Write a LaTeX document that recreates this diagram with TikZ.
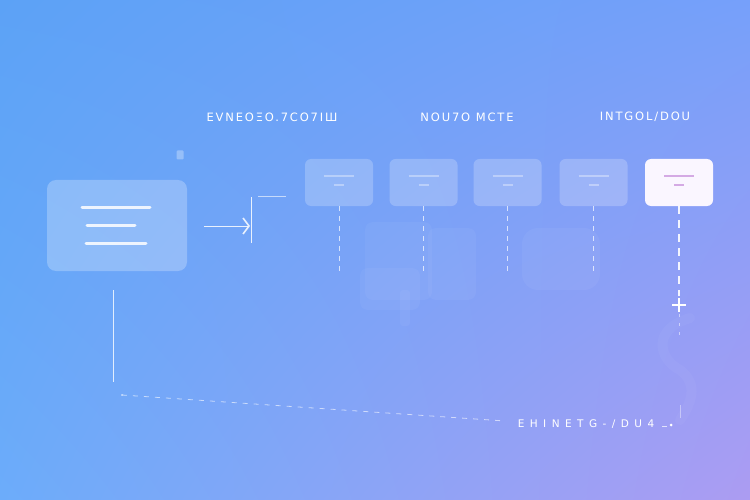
\documentclass[tikz,border=0pt]{standalone}
\usepackage{fontspec}
\newfontfamily\lbl{DejaVu Sans}[LetterSpace=16]
\newfontfamily\lblw{DejaVu Sans}[LetterSpace=52]
\usetikzlibrary{arrows.meta,shadings}
\definecolor{bgTL}{RGB}{92,162,246}
\definecolor{bgTR}{RGB}{118,160,250}
\definecolor{bgBL}{RGB}{108,172,250}
\definecolor{bgBR}{RGB}{172,156,242}
\definecolor{hiline}{RGB}{212,170,228}
\definecolor{hifill}{RGB}{250,246,255}
\tikzset{
  x=1pt,y=-1pt,
  softbox/.style={draw=none,fill=white,fill opacity=0.22,rounded corners=6pt,minimum width=68pt,minimum height=47pt,inner sep=0pt},
  hibox/.style={draw=none,fill=hifill,rounded corners=6pt,minimum width=68pt,minimum height=47pt,inner sep=0pt},
  bigbox/.style={draw=none,fill=white,fill opacity=0.25,rounded corners=9pt,minimum width=140pt,minimum height=91pt,inner sep=0pt},
  txtline/.style={white,line width=3pt,line cap=round,opacity=0.85},
  boxln/.style={white,line width=1.8pt,opacity=0.35},
  thin/.style={white,line width=0.9pt,opacity=0.85},
  vdash/.style={white,line width=1pt,dash pattern=on 5pt off 5pt,opacity=0.7},
  hdash/.style={white,line width=1.6pt,dash pattern=on 8pt off 6pt,opacity=0.9},
  bdash/.style={white,line width=0.8pt,dash pattern=on 5pt off 6pt,opacity=0.6},
  head/.style={text=white,font=\lbl\fontsize{11.5}{13}\selectfont,inner sep=0pt},
  blob/.style={fill=white,opacity=0.045,draw=none}
}
\begin{document}
\begin{tikzpicture}
\useasboundingbox (0,0) rectangle (750,500);
\shade[upper left=bgTL,upper right=bgTR,lower left=bgBL,lower right=bgBR] (0,0) rectangle (750,500);
% faint blobs
\fill[blob,rounded corners=8pt] (365,222) rectangle (432,300);
\fill[blob,rounded corners=8pt] (428,228) rectangle (476,300);
\fill[blob,rounded corners=8pt] (360,268) rectangle (420,310);
\fill[blob,rounded corners=3pt] (400,290) rectangle (410,326);
\fill[blob,rounded corners=16pt] (522,228) rectangle (600,290);
\draw[white,opacity=0.035,line width=10pt,line cap=round] (690,318) .. controls (650,330) and (660,360) .. (680,370) .. controls (700,385) and (690,405) .. (680,420);
% headers
\node[head] (h1) at (272,117) {EVNEOΞO.7CO7IШ};
\node[head] (h2) at (467,117) {NOU7O MCTE};
\node[head] (h3) at (645,117) {INTGOL/DOU};
% small square
\node[fill=white,opacity=0.3,minimum width=7pt,minimum height=9pt,inner sep=0pt,rounded corners=1pt] (sq) at (180,155) {};
% big box
\node[bigbox] (big) at (117,225.5) {};
\draw[txtline] (82,207) -- (150,207);
\draw[txtline] (87,225) -- (135,225);
\draw[txtline] (86,243) -- (146,243);
% arrow
\coordinate (a0) at (204,226);
\coordinate (a1) at (250,226);
\draw[white,line width=1pt,opacity=0.85,-{Straight Barb[length=6pt,width=16pt,line width=1.6pt]}] (a0) -- (a1);
\coordinate (v0) at (251,197);
\coordinate (v1) at (251,243);
\draw[thin] (v0) -- (v1);
\coordinate (t0) at (258,196);
\coordinate (t1) at (286,196);
\draw[thin,opacity=0.6] (t0) -- (t1);
% step boxes
\foreach \n/\x in {b1/339,b2/423.5,b3/507.5,b4/593.5}{
  \node[softbox] (\n) at (\x,182.5) {};
  \draw[boxln] (\x-15,176) -- (\x+15,176);
  \draw[boxln] (\x-5,185) -- (\x+5,185);
  \coordinate (\n e) at (\x,272);
  \draw[vdash] (\n.south) -- (\n e);
}
\node[hibox] (b5) at (679,182.5) {};
\draw[hiline,line width=1.8pt] (664,176) -- (694,176);
\draw[hiline,line width=1.8pt] (674,185) -- (684,185);
\coordinate (p) at (679,305);
\draw[hdash] (b5.south) -- (679,296);
\draw[white,line width=1.6pt] (672,305) -- (686,305) (679,298) -- (679,312);
\coordinate (pe) at (679,340);
\draw[white,opacity=0.5,line width=1pt,dash pattern=on 3pt off 6pt] (679,314) -- (pe);
% left vertical
\coordinate (l0) at (113,290);
\coordinate (l1) at (113,382);
\draw[white,line width=1pt,opacity=0.8] (l0) -- (l1);
% bottom dashed line
\coordinate (d0) at (122,395);
\coordinate (d1) at (505,421);
\fill[white,opacity=0.8] (d0) circle (0.9pt);
\draw[bdash] (d0) -- (d1);
\node[head,font=\lblw\fontsize{10.5}{12}\selectfont] (bt) at (586,424) {EHINETG-/DU4};
\draw[white,opacity=0.7,line width=0.8pt] (662,426) -- (667,426);
\fill[white] (671,425) circle (1.5pt);
\draw[white,opacity=0.4,line width=0.8pt] (680,405) -- (680,418);
\end{tikzpicture}
\end{document}
